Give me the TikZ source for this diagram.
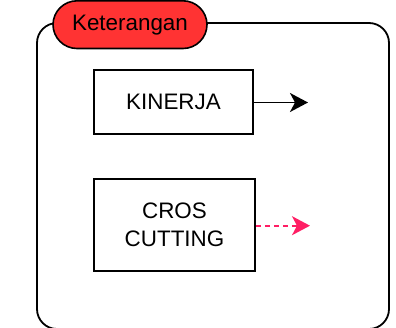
\documentclass[tikz,border=0pt]{standalone}
\usepackage{fontspec}
\setmainfont{Liberation Sans}
\usetikzlibrary{arrows.meta}
\definecolor{pillred}{RGB}{255,51,51}
\definecolor{dashpink}{RGB}{255,30,100}
\tikzset{
  frame/.style={draw=black, line width=1.8pt, rounded corners=20pt},
  pill/.style={draw=black, line width=1.6pt, fill=pillred, rounded corners=24pt},
  itembox/.style={draw=black, line width=1.8pt, fill=white},
  lbl/.style={font=\fontsize{22.4}{27.5}\selectfont, align=center, inner sep=0pt},
  solidarrow/.style={draw=black, line width=1.8pt, -{Stealth[length=18pt,width=19pt,inset=5pt]}},
  dasharrow/.style={draw=dashpink, line width=1.8pt, dash pattern=on 5pt off 4pt, -{Stealth[length=18pt,width=19pt,inset=5pt]}}
}
\begin{document}
\begin{tikzpicture}[x=1pt,y=-1pt]
\useasboundingbox (0,0) rectangle (396,327);
\draw[frame] (37,23) rectangle (389,329);
\draw[pill] (53,0.8) rectangle (207,48.5);
\node[lbl] (ket) at (130,25) {Keterangan};
\node[itembox, minimum width=159pt, minimum height=64pt, inner sep=0pt] (kin) at (173.5,102) {};
\node[lbl] (kinl) at (kin.center) {KINERJA};
\node[itembox, minimum width=161pt, minimum height=92pt, inner sep=0pt] (cros) at (174.5,225) {};
\node[lbl] (crosl) at (cros.center) {CROS\\CUTTING};
\coordinate (kend) at (308,102.5);
\coordinate (cend) at (310,225.7);
\draw[solidarrow] (kin.east |- kend) -- (kend);
\draw[dasharrow] (cros.east |- cend) -- (cend);
\end{tikzpicture}
\end{document}
